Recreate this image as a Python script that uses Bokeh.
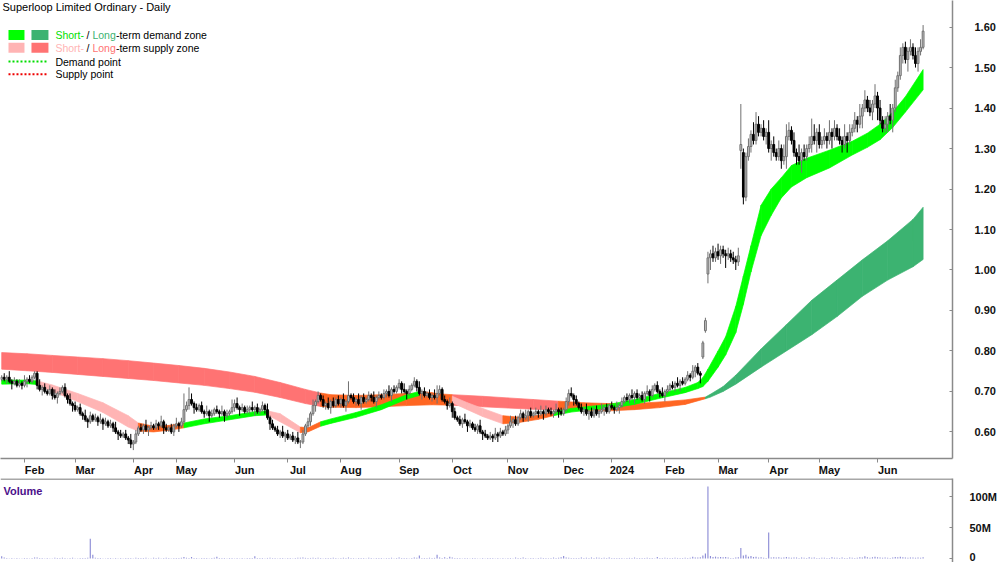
from bokeh.plotting import figure
from bokeh.layouts import column
from bokeh.models import Range1d, FixedTicker, NumeralTickFormatter, Label
from bokeh.embed import file_html
from bokeh.resources import INLINE

# ---------------- data (prices in cents, volume in millions) ----------------
opens = [
    73.0,73.5,73.0,73.5,72.5,72.0,72.5,71.5,72.0,71.5,
    72.5,73.0,72.5,73.5,74.5,71.5,70.5,71.0,70.0,69.5,
    70.5,69.0,68.5,69.5,70.0,71.0,69.0,68.0,67.0,66.5,
    65.5,66.0,64.5,64.0,63.0,62.5,64.0,63.0,63.5,62.5,
    63.0,62.0,62.5,61.5,62.0,61.0,60.0,59.5,59.0,59.5,
    58.5,58.0,57.0,57.5,59.5,61.0,60.5,61.5,60.5,61.0,
    61.5,61.0,62.0,61.5,62.5,61.0,60.5,61.0,60.0,61.5,
    62.0,61.5,62.5,65.5,66.5,68.0,67.0,66.0,65.5,66.5,
    65.0,64.5,65.0,64.0,64.5,65.5,65.0,64.5,65.0,64.0,
    64.5,65.0,66.0,67.0,66.0,65.5,66.0,65.0,65.5,66.0,
    65.5,66.0,65.0,65.5,66.5,65.5,63.5,62.0,61.0,60.5,
    59.5,60.0,59.0,59.5,58.5,59.0,58.0,58.5,57.5,57.5,
    59.5,61.5,62.5,64.5,66.5,67.5,69.0,68.0,66.5,67.0,
    66.0,67.5,66.5,68.0,67.0,68.0,66.5,67.5,69.0,68.5,
    67.5,68.0,67.0,68.5,67.5,68.0,69.0,68.5,67.5,68.5,
    69.0,68.5,69.5,70.0,69.0,70.5,70.0,71.0,72.0,70.5,
    70.0,69.5,70.5,71.5,72.5,71.0,69.5,70.0,69.0,69.5,
    68.5,69.0,68.5,69.5,70.5,68.0,67.5,66.5,67.0,65.0,
    63.5,63.0,62.0,63.0,62.5,61.5,62.0,61.0,60.5,61.5,
    60.0,59.5,59.0,58.5,59.0,58.5,59.5,59.0,60.0,59.5,
    60.5,61.5,62.5,63.0,62.0,63.5,64.5,63.5,64.0,65.0,
    64.0,64.5,65.0,64.5,65.0,64.5,65.5,65.0,64.5,65.0,
    65.5,65.0,64.5,65.5,67.5,69.5,69.0,68.0,67.0,66.0,
    65.0,65.5,64.5,65.0,64.0,65.5,64.5,65.0,65.5,66.0,
    65.0,66.5,66.0,65.5,66.0,66.5,67.5,68.5,68.0,69.0,
    68.5,69.5,68.5,69.0,68.0,69.5,70.0,69.0,70.5,71.5,
    70.0,69.5,69.0,70.0,70.5,71.5,71.0,72.0,71.5,72.5,
    72.0,73.0,74.0,73.5,75.0,76.0,74.5,78.5,85.0,99.0,
    103.0,104.0,103.0,104.5,103.5,105.0,104.0,103.5,104.0,103.0,
    102.5,102.0,129.5,129.0,118.0,128.0,130.5,133.5,132.0,136.0,
    134.0,135.0,133.0,134.0,130.0,131.0,129.0,128.0,130.0,127.0,
    128.0,133.0,134.5,132.0,129.0,128.0,127.0,129.0,128.0,130.0,
    131.0,133.0,132.0,134.0,131.0,132.0,133.0,132.0,134.0,133.0,
    135.0,133.0,132.0,131.0,133.0,132.0,134.0,135.0,137.0,136.0,
    138.0,140.0,142.0,140.0,139.0,141.0,143.0,140.0,137.0,135.0,
    136.0,138.0,137.0,140.0,145.0,148.0,153.0,155.0,152.0,154.0,
    155.0,153.0,151.0,154.0,155.0,
]
highs = [
    74.0,74.5,74.0,75.0,73.0,73.5,73.0,73.0,72.5,74.0,
    73.5,74.0,74.0,75.0,75.0,73.0,71.5,72.0,70.5,71.5,
    71.0,70.5,70.0,71.0,71.5,72.0,69.5,69.5,67.5,67.5,
    66.5,67.0,65.0,65.5,63.5,65.0,64.5,64.5,64.0,64.5,
    63.5,63.5,63.0,63.0,62.5,62.5,60.5,60.5,60.0,60.5,
    59.0,59.5,58.0,60.5,61.5,62.0,62.0,63.0,61.5,62.5,
    62.0,63.0,62.5,64.0,63.0,62.0,61.5,62.0,62.0,63.5,
    62.5,63.5,69.5,67.5,71.0,69.5,67.5,67.0,67.0,67.5,
    65.5,66.5,65.5,65.5,66.0,66.5,65.5,66.5,65.5,65.5,
    65.5,68.0,68.0,68.5,66.5,67.0,66.5,66.5,66.5,67.5,
    66.5,67.0,66.0,67.5,67.0,67.0,64.0,63.0,61.5,61.5,
    60.5,61.5,60.0,60.5,59.5,60.0,59.0,60.0,58.0,60.5,
    62.0,63.5,65.0,68.0,68.0,70.0,69.5,69.0,67.5,68.5,
    68.0,68.5,68.5,69.0,68.5,69.5,68.0,72.5,69.5,69.5,
    68.5,69.5,69.0,69.5,68.5,70.0,69.5,70.0,69.0,70.0,
    69.5,70.5,70.5,71.5,71.0,71.5,71.5,73.0,72.5,72.0,
    70.5,71.5,72.0,73.5,73.0,72.5,70.5,71.0,70.0,70.5,
    69.5,70.5,71.5,71.5,71.0,69.0,68.0,68.5,67.5,66.0,
    64.0,64.0,63.5,64.5,63.0,63.0,62.5,62.0,62.0,63.0,
    60.5,60.5,59.5,60.0,59.5,61.0,60.0,61.0,60.5,61.5,
    62.0,64.0,63.5,64.0,64.0,65.5,65.0,65.5,65.5,66.0,
    65.0,66.0,65.5,66.5,65.5,66.5,66.0,66.0,65.5,67.0,
    66.0,66.0,66.0,68.5,70.5,71.0,69.5,69.0,67.5,67.0,
    66.0,67.0,65.5,66.0,66.0,66.5,65.5,67.0,66.5,67.0,
    67.0,67.5,66.5,67.5,67.0,68.5,69.0,69.5,69.5,70.5,
    70.0,70.5,69.5,70.0,70.0,71.5,70.5,71.5,72.0,72.5,
    70.5,71.0,70.5,71.5,72.0,72.5,72.5,73.5,73.0,73.5,
    73.5,75.0,74.5,76.5,76.5,77.0,75.0,82.5,88.2,104.5,
    105.0,106.0,105.5,106.5,106.0,106.0,105.0,105.5,105.0,104.5,
    103.5,105.5,141.0,130.0,129.0,132.5,134.5,136.5,139.0,138.0,
    136.0,137.0,135.0,137.0,132.0,133.0,130.0,132.0,131.0,131.0,
    136.0,136.5,135.5,134.0,130.0,131.0,130.0,131.0,131.0,133.0,
    137.4,136.0,135.0,136.0,133.0,135.0,134.0,137.0,135.0,137.0,
    136.0,135.0,133.0,136.0,134.0,136.0,136.0,139.0,138.0,141.0,
    141.0,144.4,143.0,142.0,142.0,145.9,144.0,142.0,138.0,138.0,
    139.0,141.0,141.0,147.0,149.0,155.0,156.0,156.4,155.0,157.0,
    156.0,155.0,155.0,157.0,160.5,
]
lows = [
    72.5,72.5,72.0,72.0,70.5,71.5,71.0,71.0,70.5,71.0,
    71.0,72.0,72.0,73.0,70.5,70.0,69.0,69.5,69.0,69.0,
    68.0,68.0,67.0,69.0,69.5,68.5,67.0,66.5,65.0,65.0,
    65.0,64.0,63.0,62.5,61.0,62.0,62.5,62.5,61.5,62.0,
    60.5,61.5,61.0,61.0,60.0,59.5,58.0,58.5,58.5,58.0,
    57.0,56.0,55.5,57.0,59.0,60.0,59.5,60.0,59.0,60.5,
    60.5,60.5,60.5,61.0,59.5,60.0,60.0,59.5,59.0,61.0,
    60.0,61.0,62.0,65.0,65.5,66.5,64.5,65.0,65.0,64.5,
    63.5,64.0,62.5,63.5,64.0,64.5,63.5,64.0,62.5,63.5,
    64.0,64.5,65.0,65.5,64.0,65.0,64.5,64.5,64.5,65.0,
    64.0,64.5,64.5,65.0,64.5,63.0,60.5,60.5,60.0,59.0,
    58.5,58.5,57.5,58.0,58.0,57.5,57.0,57.0,56.0,57.0,
    59.0,61.0,61.5,64.0,65.0,67.0,67.5,66.0,65.5,65.5,
    64.5,66.0,66.0,66.5,66.0,66.0,65.0,67.0,68.0,67.0,
    66.5,66.5,65.5,67.0,67.0,67.5,67.5,67.0,66.0,68.0,
    68.0,68.0,68.5,68.5,67.5,69.5,69.5,70.5,69.5,69.5,
    68.0,69.0,70.0,71.0,70.0,69.0,68.0,68.5,68.5,68.0,
    67.5,68.0,67.0,69.0,67.5,67.0,65.5,66.0,63.5,63.0,
    62.5,61.5,61.0,62.0,60.0,61.0,60.5,60.0,59.5,59.5,
    58.0,58.5,58.0,58.0,57.5,58.0,57.5,58.5,59.0,59.0,
    59.5,61.0,61.0,61.5,61.5,63.0,62.5,63.0,62.5,63.5,
    63.5,64.0,63.5,64.0,63.0,64.0,64.5,64.0,63.5,64.5,
    63.5,64.0,64.0,65.0,66.5,68.5,66.5,66.5,65.5,64.5,
    64.0,64.0,63.0,63.5,63.5,64.0,63.5,64.5,64.0,64.5,
    64.5,65.5,64.5,65.0,64.5,66.0,67.0,67.5,67.0,68.0,
    67.0,68.0,68.0,67.5,67.0,69.0,67.5,68.5,70.0,69.5,
    68.5,68.5,67.5,69.5,70.0,70.5,70.0,71.0,70.0,71.5,
    71.5,72.5,72.5,73.0,73.5,74.0,72.0,78.0,84.5,96.7,
    100.0,102.0,102.0,102.5,101.5,103.0,100.5,102.5,102.0,101.5,
    100.0,101.0,125.0,116.2,117.0,127.0,129.0,131.0,131.0,133.0,
    133.0,132.0,131.0,129.0,127.0,128.0,127.0,127.0,125.0,126.0,
    125.0,132.0,131.0,128.0,126.0,126.0,124.0,127.0,127.0,129.0,
    129.0,131.0,129.0,130.0,130.0,131.0,130.0,131.0,130.0,132.0,
    132.0,131.0,129.0,130.0,129.0,131.0,133.0,134.0,134.0,135.0,
    135.0,139.0,139.0,138.0,137.0,140.0,137.0,136.0,134.0,134.0,
    134.0,136.0,134.0,139.0,144.0,147.0,151.0,151.0,149.0,153.0,
    152.0,150.0,149.0,153.0,154.5,
]
closes = [
    73.5,73.0,73.5,72.5,72.0,72.5,71.5,72.0,71.5,72.5,
    73.0,72.5,73.5,74.5,71.5,70.5,71.0,70.0,69.5,70.5,
    69.0,68.5,69.5,70.0,71.0,69.0,68.0,67.0,66.5,65.5,
    66.0,64.5,64.0,63.0,62.5,64.0,63.0,63.5,62.5,63.0,
    62.0,62.5,61.5,62.0,61.0,60.0,59.5,59.0,59.5,58.5,
    58.0,57.0,57.5,59.5,61.0,60.5,61.5,60.5,61.0,61.5,
    61.0,62.0,61.5,62.5,61.0,60.5,61.0,60.0,61.5,62.0,
    61.5,62.5,65.5,66.5,68.0,67.0,66.0,65.5,66.5,65.0,
    64.5,65.0,64.0,64.5,65.5,65.0,64.5,65.0,64.0,64.5,
    65.0,66.0,67.0,66.0,65.5,66.0,65.0,65.5,66.0,65.5,
    66.0,65.0,65.5,66.5,65.5,63.5,62.0,61.0,60.5,59.5,
    60.0,59.0,59.5,58.5,59.0,58.0,58.5,57.5,57.5,59.5,
    61.5,62.5,64.5,66.5,67.5,69.0,68.0,66.5,67.0,66.0,
    67.5,66.5,68.0,67.0,68.0,66.5,67.5,69.0,68.5,67.5,
    68.0,67.0,68.5,67.5,68.0,69.0,68.5,67.5,68.5,69.0,
    68.5,69.5,70.0,69.0,70.5,70.0,71.0,72.0,70.5,70.0,
    69.5,70.5,71.5,72.5,71.0,69.5,70.0,69.0,69.5,68.5,
    69.0,68.5,69.5,70.5,68.0,67.5,66.5,67.0,65.0,63.5,
    63.0,62.0,63.0,62.5,61.5,62.0,61.0,60.5,61.5,60.0,
    59.5,59.0,58.5,59.0,58.5,59.5,59.0,60.0,59.5,60.5,
    61.5,62.5,63.0,62.0,63.5,64.5,63.5,64.0,65.0,64.0,
    64.5,65.0,64.5,65.0,64.5,65.5,65.0,64.5,65.0,65.5,
    65.0,64.5,65.5,67.5,69.5,69.0,68.0,67.0,66.0,65.0,
    65.5,64.5,65.0,64.0,65.5,64.5,65.0,65.5,66.0,65.0,
    66.5,66.0,65.5,66.0,66.5,67.5,68.5,68.0,69.0,68.5,
    69.5,68.5,69.0,68.0,69.5,70.0,69.0,70.5,71.5,70.0,
    69.5,69.0,70.0,70.5,71.5,71.0,72.0,71.5,72.5,72.0,
    73.0,74.0,73.5,75.0,76.0,74.5,74.0,82.0,87.5,103.0,
    104.0,103.0,104.5,103.5,105.0,104.0,103.5,104.0,103.0,102.5,
    102.0,103.5,131.0,118.0,128.0,130.5,133.5,132.0,136.0,134.0,
    135.0,133.0,134.0,130.0,131.0,129.0,128.0,130.0,127.0,128.0,
    133.0,134.5,132.0,129.0,128.0,127.0,129.0,128.0,130.0,131.0,
    133.0,132.0,134.0,131.0,132.0,133.0,132.0,134.0,133.0,135.0,
    133.0,132.0,131.0,133.0,132.0,134.0,135.0,137.0,136.0,138.0,
    140.0,142.0,140.0,139.0,141.0,143.0,140.0,137.0,135.0,136.0,
    138.0,137.0,140.0,145.0,148.0,153.0,155.0,152.0,154.0,155.0,
    153.0,151.0,154.0,155.0,159.0,
]
volumes_m = [
    3.5,1.5,0.8,0.6,0.7,0.5,0.9,0.6,0.5,0.7,
    0.8,0.6,0.9,1.8,1.5,0.9,0.7,0.6,0.8,0.5,
    0.6,1.2,0.7,0.9,1.4,0.8,0.6,0.7,1.1,0.5,
    0.6,0.8,0.7,0.9,1.3,32.0,6.0,1.2,0.8,0.7,
    0.6,0.5,0.8,0.7,0.6,0.9,0.5,0.7,0.6,0.8,
    0.7,0.9,0.6,1.4,0.8,0.7,0.9,1.2,0.6,0.5,
    1.3,0.7,1.2,0.6,0.8,1.1,0.7,0.6,0.9,0.7,
    0.8,1.4,2.4,1.2,1.0,2.6,0.8,0.7,0.6,0.9,
    0.8,0.7,0.6,0.9,1.2,2.8,1.0,0.7,0.8,0.6,
    0.7,0.9,0.6,0.8,0.5,0.7,0.6,1.0,0.8,0.7,
    3.5,1.0,0.8,0.7,0.6,0.9,1.2,0.7,0.8,0.6,
    0.7,0.8,0.6,0.9,0.7,0.6,0.8,1.3,1.2,1.5,
    1.0,0.8,0.9,1.2,0.7,1.4,0.8,0.6,0.9,0.7,
    0.8,1.3,0.7,0.6,0.9,1.1,0.7,1.6,0.8,0.7,
    0.6,0.9,0.7,0.8,0.6,1.1,0.7,0.6,0.8,0.7,
    0.9,0.6,0.7,0.8,1.2,0.6,0.7,1.5,0.9,0.8,
    0.7,0.6,0.9,1.8,1.2,5.0,1.0,0.8,0.7,1.2,
    0.9,1.0,6.0,1.5,0.8,2.0,0.7,3.0,1.6,0.9,
    0.7,0.8,0.6,0.9,0.7,0.6,0.8,0.7,0.6,0.5,
    0.7,0.6,0.8,0.7,0.9,0.6,0.7,0.5,0.8,0.6,
    0.7,0.8,0.6,1.5,0.9,0.7,1.6,0.8,0.6,0.7,
    0.8,0.6,0.7,1.4,0.9,0.8,0.6,0.7,1.5,0.9,
    1.1,2.0,4.0,1.8,1.2,1.0,0.9,0.8,0.7,1.6,
    0.9,1.2,0.7,1.6,0.8,1.5,1.3,0.9,1.4,0.8,
    1.6,0.7,0.9,0.8,1.0,0.7,0.6,0.8,1.0,0.9,
    1.5,0.8,0.7,0.9,1.0,1.2,0.8,0.7,0.6,2.5,
    0.8,0.7,1.2,0.9,0.7,0.8,1.3,0.9,0.8,1.0,
    1.2,0.9,1.4,3.0,1.8,1.5,2.2,5.0,8.0,116.0,
    4.0,2.5,3.0,2.2,2.5,2.0,2.4,1.8,1.0,0.9,
    1.5,2.0,17.0,5.0,6.0,3.0,4.0,2.5,3.0,1.5,
    2.0,1.2,1.0,42.0,1.8,2.0,1.5,2.2,1.2,1.6,
    2.4,1.5,1.2,1.6,1.8,1.0,1.5,1.3,0.9,2.0,
    1.2,1.6,1.0,0.9,1.3,1.4,0.8,1.0,2.0,1.4,
    1.1,0.9,1.6,1.0,0.8,1.7,1.2,1.0,1.4,2.0,
    1.6,3.5,2.0,1.2,2.0,3.0,2.0,1.5,1.2,1.6,
    1.4,1.0,1.8,2.5,2.0,3.0,2.0,1.6,1.2,1.5,
    1.8,1.4,1.6,1.2,2.0,
]

# month starts (trading-day index) and their labels
month_starts = [9, 29, 52, 69, 92, 113, 134, 157, 178, 200, 222, 241, 262, 283, 303, 323, 346]
month_labels = ["Feb", "Mar", "Apr", "May", "Jun", "Jul", "Aug", "Sep", "Oct", "Nov",
                "Dec", "2024", "Feb", "Mar", "Apr", "May", "Jun"]
price_ticks = [0.6, 0.7, 0.8, 0.9, 1.0, 1.1, 1.2, 1.3, 1.4, 1.5, 1.6]
volume_ticks = [0, 50_000_000, 100_000_000]
volume_tick_labels = ["0", "50M", "100M"]

# short-term zone (read at sample days) : top, bottom, state (D demand, S supply, N neutral)
st_idx = [0,10,14,20,30,40,50,54,60,66, 72,80,90,100,105,110,118,121,126,130,
          140,150,160,165,170,178,184,190,198,205, 212,218,225,232,240,250,260,270,275,277,
          279,283,286,290,293,296,300,304,308,312, 318,327,336,342,347,352,357,364]
st_top = [0.728,0.728,0.726,0.716,0.695,0.672,0.640,0.622,0.614,0.616,
          0.622,0.632,0.640,0.650,0.652,0.645,0.612,0.610,0.625,0.632,
          0.648,0.667,0.692,0.700,0.697,0.688,0.672,0.658,0.640,0.636,
          0.641,0.650,0.658,0.663,0.668,0.680,0.695,0.710,0.722,0.734,
          0.755,0.800,0.835,0.910,0.985,1.060,1.160,1.200,1.228,1.258,
          1.276,1.296,1.318,1.338,1.360,1.390,1.428,1.495]
st_bot = [0.718,0.719,0.717,0.700,0.675,0.648,0.612,0.602,0.600,0.604,
          0.610,0.620,0.630,0.640,0.642,0.625,0.598,0.600,0.614,0.621,
          0.636,0.655,0.681,0.690,0.684,0.672,0.655,0.638,0.620,0.624,
          0.631,0.640,0.649,0.654,0.658,0.668,0.683,0.697,0.707,0.712,
          0.725,0.760,0.790,0.845,0.915,0.995,1.085,1.135,1.178,1.205,
          1.228,1.252,1.284,1.303,1.322,1.352,1.390,1.445]
st_state = ["D","D","S","S","S","S","S","N","N","N",
            "D","D","D","D","S","S","N","N","D","D",
            "D","D","D","N","N","S","S","S","N","N",
            "N","D","D","D","D","D","D","D","D","D",
            "D","D","D","D","D","D","D","D","D","D",
            "D","D","D","D","D","D","D","D"]

# long-term zone
lt_idx = [0,10,20,30,40,50,60,70,80,90, 100,110,120,126,130,140,150,160,170,178,
          190,200,210,220,230,240,250,260,270,278, 280,285,290,300,310,320,330,340,350,360, 364]
lt_top = [0.796,0.793,0.789,0.785,0.781,0.776,0.770,0.764,0.757,0.748,
          0.737,0.722,0.705,0.696,0.692,0.690,0.692,0.695,0.695,0.692,
          0.688,0.684,0.680,0.676,0.672,0.670,0.670,0.674,0.679,0.686,
          0.693,0.712,0.740,0.805,0.865,0.925,0.975,1.025,1.072,1.125,1.155]
lt_bot = [0.755,0.751,0.747,0.742,0.737,0.732,0.727,0.721,0.715,0.707,
          0.698,0.685,0.670,0.663,0.661,0.660,0.662,0.665,0.667,0.666,
          0.662,0.659,0.656,0.654,0.652,0.652,0.655,0.660,0.668,0.682,
          0.686,0.700,0.718,0.760,0.800,0.840,0.885,0.935,0.975,1.008,1.026]
lt_state = ["S"]*13 + ["N"]*6 + ["S"]*4 + ["N"]*6 + ["D"]*12

# ---------------- styling / layout helpers ----------------
FONT = "Liberation Sans"
AXIS_GREY = "#8a8a8a"
ST_COL = {"D": "#00FF00", "S": "#FFB4B4", "N": "#FF6622"}
LT_COL = {"D": "#3CB371", "S": "#FF7373", "N": "#FF6622"}
X0, DX = 1.19, 2.534            # page pixel of day 0, pixels per trading day


def xd(px):
    return (px - X0) / DX


def yd(py):
    return 0.60 + (438.0 - py) / 411.0


def vd(py):
    return (558.0 - py) / 62.0 * 100e6


n = min(len(opens), len(highs), len(lows), len(closes), len(volumes_m))
xs = list(range(n))

p = figure(width=1000, height=478, x_range=Range1d(xd(0), xd(953)),
           y_range=Range1d(yd(465), yd(0)), y_axis_location="right",
           x_axis_location="below", toolbar_location=None, output_backend="svg",
           min_border_left=0, min_border_right=47, min_border_top=0, min_border_bottom=13,
           outline_line_color=None, background_fill_color="white", border_fill_color="white")
p.xgrid.visible = False
p.ygrid.visible = False

# zones
def draw_band(idx, top, bot, state, cols):
    bx, by, bc = [], [], []
    for j in range(len(idx) - 1):
        bx.append([idx[j], idx[j + 1], idx[j + 1], idx[j]])
        by.append([top[j], top[j + 1], bot[j + 1], bot[j]])
        bc.append(cols[state[j]])
    p.patches(bx, by, fill_color=bc, line_color=bc, line_width=0.7)


draw_band(lt_idx, lt_top, lt_bot, lt_state, LT_COL)
draw_band(st_idx, st_top, st_bot, st_state, ST_COL)

# candles
o = [val / 100 for val in opens[:n]]
h = [val / 100 for val in highs[:n]]
l = [val / 100 for val in lows[:n]]
c = [val / 100 for val in closes[:n]]
up = [c[i] >= o[i] for i in range(n)]
wick_col = ["#707070" if u else "#000000" for u in up]
body_fill = ["#c4c4c4" if u else "#000000" for u in up]
p.segment(x0=xs, y0=l, x1=xs, y1=h, line_color=wick_col, line_width=1)
p.vbar(x=xs, width=0.72, top=[max(o[i], c[i]) for i in range(n)],
       bottom=[min(o[i], c[i]) for i in range(n)], fill_color=body_fill,
       line_color=wick_col, line_width=1)

# axes
xa = p.xaxis[0]
label_pos = [m + 4 for m in month_starts]
xa.ticker = FixedTicker(ticks=label_pos, minor_ticks=month_starts)
xa.major_label_overrides = {t: s for t, s in zip(label_pos, month_labels)}
xa.major_tick_line_color = None
xa.major_tick_in = 0
xa.major_tick_out = 0
xa.minor_tick_in = 0
xa.minor_tick_out = 4
xa.minor_tick_line_color = AXIS_GREY
xa.axis_line_color = AXIS_GREY
xa.axis_line_width = 1.5
xa.major_label_standoff = 1
xa.major_label_text_font = FONT
xa.major_label_text_font_size = "11px"
xa.major_label_text_font_style = "bold"
xa.major_label_text_color = "#111111"

ya = p.yaxis[0]
ya.ticker = FixedTicker(ticks=price_ticks)
ya.formatter = NumeralTickFormatter(format="0.00")
ya.major_tick_in = 3
ya.major_tick_out = 0
ya.minor_tick_line_color = None
ya.major_tick_line_color = AXIS_GREY
ya.axis_line_color = AXIS_GREY
ya.axis_line_width = 1.5
ya.major_label_standoff = 22
ya.major_label_text_font = FONT
ya.major_label_text_font_size = "11px"
ya.major_label_text_font_style = "bold"
ya.major_label_text_color = "#111111"


def add_text(fig, px, py, text, color="#000000", size="11px", style="normal", yfun=yd):
    fig.add_layout(Label(x=xd(px), y=yfun(py), text=text, text_color=color,
                         text_font=FONT, text_font_size=size, text_font_style=style,
                         text_baseline="middle", text_align="left"))


# title and legend
add_text(p, 2, 7, "Superloop Limited Ordinary - Daily", size="11px")
p.quad(left=[xd(8), xd(31), xd(8), xd(31)], right=[xd(24), xd(48), xd(24), xd(48)],
       top=[yd(30), yd(30), yd(43), yd(43)], bottom=[yd(40), yd(40), yd(53), yd(53)],
       fill_color=[ST_COL["D"], LT_COL["D"], ST_COL["S"], LT_COL["S"]], line_color=None)
p.line([xd(8), xd(48)], [yd(62), yd(62)], line_color="#00DD00", line_width=2, line_dash="2 2")
p.line([xd(8), xd(48)], [yd(75), yd(75)], line_color="#EE0000", line_width=2, line_dash="2 2")
LEG = "10.5px"
add_text(p, 55, 35, "Short-", color="#00E000", size=LEG)
add_text(p, 86, 35, "/", size=LEG)
add_text(p, 92, 35, "Long", color="#3CB371", size=LEG)
add_text(p, 115.5, 35, "-term demand zone", size=LEG)
add_text(p, 55, 48, "Short-", color="#FFB4B4", size=LEG)
add_text(p, 86, 48, "/", size=LEG)
add_text(p, 92, 48, "Long", color="#FF7373", size=LEG)
add_text(p, 115.5, 48, "-term supply zone", size=LEG)
add_text(p, 55, 62, "Demand point", size=LEG)
add_text(p, 55, 75, "Supply point", size=LEG)

# ---------------- volume panel ----------------
v = figure(width=1000, height=84, x_range=p.x_range, y_range=Range1d(vd(562), vd(478)),
           y_axis_location="right", x_axis_location=None, toolbar_location=None,
           output_backend="svg", min_border_left=0, min_border_right=47, min_border_top=0,
           min_border_bottom=0, outline_line_color=None, background_fill_color="white",
           border_fill_color="white")
v.xgrid.visible = False
v.ygrid.visible = False
v.vbar(x=xs, width=0.45, top=[vv * 1e6 for vv in volumes_m[:n]], bottom=0,
       fill_color="#8c8cd6", line_color=None)
v.line([xd(0), xd(953)], [vd(478.6), vd(478.6)], line_color=AXIS_GREY, line_width=1.5)

va = v.yaxis[0]
va.ticker = FixedTicker(ticks=volume_ticks)
va.major_label_overrides = {t: s for t, s in zip(volume_ticks, volume_tick_labels)}
va.major_tick_in = 3
va.major_tick_out = 0
va.minor_tick_line_color = None
va.major_tick_line_color = AXIS_GREY
va.axis_line_color = AXIS_GREY
va.axis_line_width = 1.5
va.major_label_standoff = 17
va.major_label_text_font = FONT
va.major_label_text_font_size = "11px"
va.major_label_text_font_style = "bold"
va.major_label_text_color = "#111111"

add_text(v, 3, 490, "Volume", color="#4B0F8A", size="11px", style="bold", yfun=vd)

layout = column(p, v, spacing=0)
open("out.html", "w").write(file_html(layout, INLINE, "Superloop Limited Ordinary - Daily"))
